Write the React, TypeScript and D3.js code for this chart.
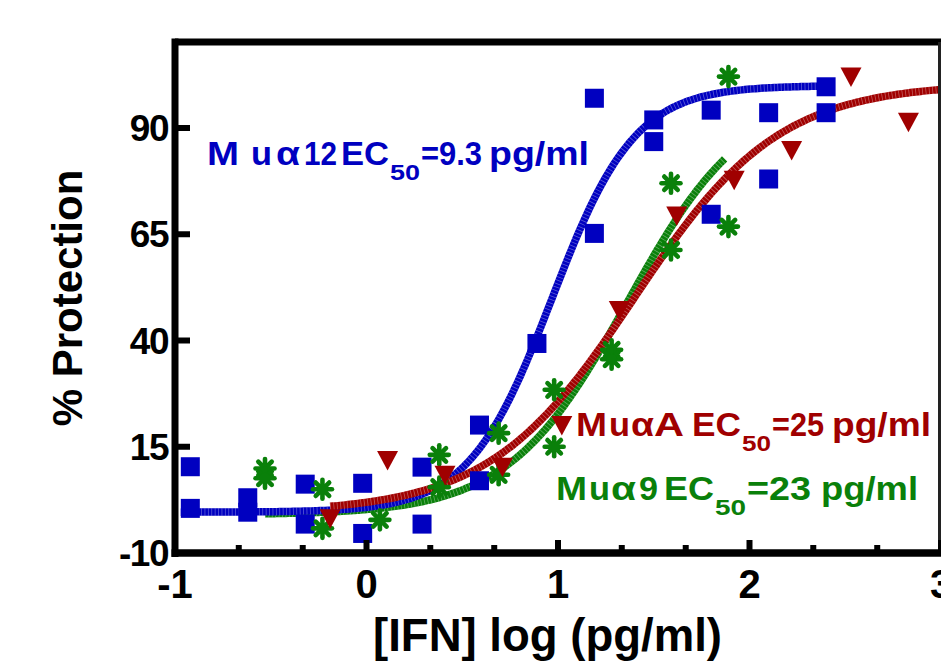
import React from 'react';
import * as d3 from 'd3';

// ---- axis ticks ----
const xTicks = [-1, 0, 1, 2, 3];
const xMinorTicks = [-0.667, -0.333, 0.333, 0.667, 1.333, 1.667, 2.333, 2.667];
const yTicks = [-10, 15, 40, 65, 90];

// ---- Mu alpha 12 (blue squares) ----
const mu12X = [-0.92, -0.92, -0.62, -0.62, -0.32, -0.32, -0.02, -0.02, 0.29, 0.29, 0.59, 0.59, 0.89, 1.19, 1.19, 1.5, 1.5, 1.8, 1.8, 2.1, 2.1, 2.4, 2.4];
const mu12Y = [10.3, 0.5, 3.0, -0.4, 6.2, -3.2, 6.4, -5.4, 10.2, -3.2, 20.1, 7.0, 39.3, 97.0, 65.2, 91.9, 86.8, 94.2, 69.7, 93.6, 78.0, 99.7, 93.6];

// ---- Mu alpha A (red triangles) ----
const muAX = [-0.19, 0.11, 0.41, 0.71, 1.02, 1.32, 1.62, 1.92, 2.22, 2.53, 2.83];
const muAY = [-1.8, 11.9, 8.4, 10.3, 20.1, 47.2, 69.4, 77.8, 84.8, 102.1, 91.5];

// ---- Mu alpha 9 (green asterisks) ----
const mu9X = [-0.53, -0.53, -0.23, -0.23, 0.07, 0.38, 0.38, 0.69, 0.69, 0.98, 0.98, 1.28, 1.28, 1.59, 1.59, 1.89, 1.89];
const mu9Y = [9.9, 7.6, 5.0, -4.2, -2.2, 13.1, 5.5, 18.2, 8.4, 28.4, 15.0, 37.8, 35.6, 77.0, 61.3, 102.1, 66.8];

// ---- fitted sigmoid parameters: [bottom, top, logEC50, hill, xFrom, xTo] ----
const mu12Fit = [-0.4, 100, 0.968, 2.0, -0.97, 2.38];
const muAFit = [-0.5, 100.5, 1.398, 1.15, -0.19, 3.0];
const mu9Fit = [-1, 99, 1.362, 1.4, -0.53, 1.87];

// ---- annotation texts ----
const mu12Label = ['M', 'u', 'α', '12', 'EC', '50', '=9.3', 'pg/ml'];
const muALabel = ['M', 'u', 'α', 'A', 'EC', '50', '=25', 'pg/ml'];
const mu9Label = ['M', 'u', 'α', '9', 'EC', '50', '=23', 'pg/ml'];

const BLUE = '#0000c0';
const RED = '#a00000';
const GREEN = '#0a800a';
const FONT = 'Arial, "Liberation Sans", Helvetica, sans-serif';

const W = 941;
const H = 668;
const x = d3.scaleLinear().domain([-1, 3]).range([175, 941]);
const y = d3.scaleLinear().domain([-10, 110]).range([553, 43]);

function fitPath(p: number[]) {
  const [b, t, m, h, from, to] = p;
  const n = 240;
  const pts: [number, number][] = d3.range(n + 1).map((i) => {
    const xv = from + ((to - from) * i) / n;
    const yv = b + (t - b) / (1 + Math.pow(10, (m - xv) * h));
    return [xv, yv];
  });
  const line = d3
    .line<[number, number]>()
    .x((d) => x(d[0]))
    .y((d) => y(d[1]))
    .curve(d3.curveLinear);
  return line(pts) || '';
}

function Curve({ p, color }: { p: number[]; color: string }) {
  const d = fitPath(p);
  return (
    <g>
      <path d={d} fill="none" stroke={color} strokeWidth={7.5} />
      <path d={d} fill="none" stroke="#ffffff" strokeOpacity={0.35} strokeWidth={7.5} strokeDasharray="0.8 2.6" />
    </g>
  );
}

function Asterisk({ cx, cy }: { cx: number; cy: number }) {
  const r = 9.5;
  const angles = [0, 45, 90, 135];
  return (
    <g>
      {angles.map((a) => {
        const rad = (a * Math.PI) / 180;
        return (
          <line
            key={a}
            x1={cx - r * Math.cos(rad)}
            y1={cy - r * Math.sin(rad)}
            x2={cx + r * Math.cos(rad)}
            y2={cy + r * Math.sin(rad)}
            stroke={GREEN}
            strokeWidth={4.6}
            strokeLinecap="round"
          />
        );
      })}
      <circle cx={cx} cy={cy} r={5.5} fill={GREEN} />
    </g>
  );
}

// layout of each label piece: [left x, width], subscript is index 5
function Label({
  parts,
  spans,
  baseline,
  color,
}: {
  parts: string[];
  spans: [number, number][];
  baseline: number;
  color: string;
}) {
  return (
    <g fill={color} fontWeight="bold">
      {parts.map((s, i) => {
        const sub = i === 5;
        return (
          <text
            key={i}
            x={spans[i][0]}
            y={sub ? baseline + 15 : baseline}
            fontSize={sub ? 22 : 34}
            textLength={spans[i][1]}
            lengthAdjust="spacingAndGlyphs"
          >
            {s}
          </text>
        );
      })}
    </g>
  );
}

export default function App() {
  const axisColor = '#000';
  return (
    <svg
      width={W}
      height={H}
      viewBox={`0 0 ${W} ${H}`}
      style={{ position: 'absolute', left: 0, top: 0, background: '#fff' }}
      fontFamily={FONT}
    >
      <rect x={0} y={0} width={W} height={H} fill="#fff" />

      {/* curves */}
      <Curve p={mu9Fit} color={GREEN} />
      <Curve p={mu12Fit} color={BLUE} />
      <Curve p={muAFit} color={RED} />

      {/* blue squares */}
      {mu12X.map((xv, i) => (
        <rect key={'b' + i} x={x(xv) - 9.5} y={y(mu12Y[i]) - 9.5} width={19} height={19} fill={BLUE} />
      ))}
      {/* green asterisks */}
      {mu9X.map((xv, i) => (
        <Asterisk key={'g' + i} cx={x(xv)} cy={y(mu9Y[i])} />
      ))}
      {/* red triangles */}
      {muAX.map((xv, i) => {
        const cx = x(xv);
        const cy = y(muAY[i]);
        return (
          <polygon
            key={'r' + i}
            points={`${cx - 10.5},${cy - 9} ${cx + 10.5},${cy - 9} ${cx},${cy + 10.5}`}
            fill={RED}
          />
        );
      })}

      {/* frame */}
      <line x1={175} y1={42} x2={941} y2={42} stroke={axisColor} strokeWidth={7} />
      <line x1={939.5} y1={42} x2={939.5} y2={553} stroke="#222" strokeWidth={3} />
      <line x1={175} y1={38.5} x2={175} y2={557} stroke={axisColor} strokeWidth={7} />
      <line x1={171.5} y1={553} x2={941} y2={553} stroke={axisColor} strokeWidth={7.5} />

      {/* y ticks */}
      {yTicks.map((t) => (
        <g key={'yt' + t}>
          <line x1={175} x2={190} y1={y(t)} y2={y(t)} stroke={axisColor} strokeWidth={6} />
          <text
            x={168}
            y={y(t) + 13}
            textAnchor="end"
            fontSize={37}
            fontWeight="bold"
            fill="#000"
            letterSpacing={-1.5}
          >
            {t}
          </text>
        </g>
      ))}

      {/* x ticks */}
      {xTicks.map((t) => (
        <g key={'xt' + t}>
          <line x1={x(t)} x2={x(t)} y1={553} y2={540} stroke={axisColor} strokeWidth={6} />
          <text x={x(t)} y={598} textAnchor="middle" fontSize={40} fontWeight="bold" fill="#000">
            {t}
          </text>
        </g>
      ))}
      {xMinorTicks.map((t) => (
        <line key={'xm' + t} x1={x(t)} x2={x(t)} y1={553} y2={545} stroke={axisColor} strokeWidth={6} />
      ))}

      {/* axis titles */}
      <text x={373} y={651} fontSize={46} fontWeight="bold" fill="#000" textLength={349} lengthAdjust="spacingAndGlyphs">
        [IFN] log (pg/ml)
      </text>
      <text
        transform="translate(82,298) rotate(-90)"
        textAnchor="middle"
        fontSize={42}
        fontWeight="bold"
        fill="#000"
      >
        % Protection
      </text>

      {/* annotations */}
      <Label
        parts={mu12Label}
        color={BLUE}
        baseline={165}
        spans={[[207, 32], [251, 21], [276, 24], [304, 33], [341, 48], [390, 30], [421, 61], [489, 100]]}
      />
      <Label
        parts={muALabel}
        color={RED}
        baseline={436}
        spans={[[576, 31], [609, 21], [631, 23], [654, 30], [692, 49], [742, 29], [772, 52], [832, 99]]}
      />
      <Label
        parts={mu9Label}
        color={GREEN}
        baseline={500}
        spans={[[556, 31], [589, 21], [611, 25], [639, 19], [664, 50], [715, 31], [747, 64], [821, 97]]}
      />
    </svg>
  );
}
